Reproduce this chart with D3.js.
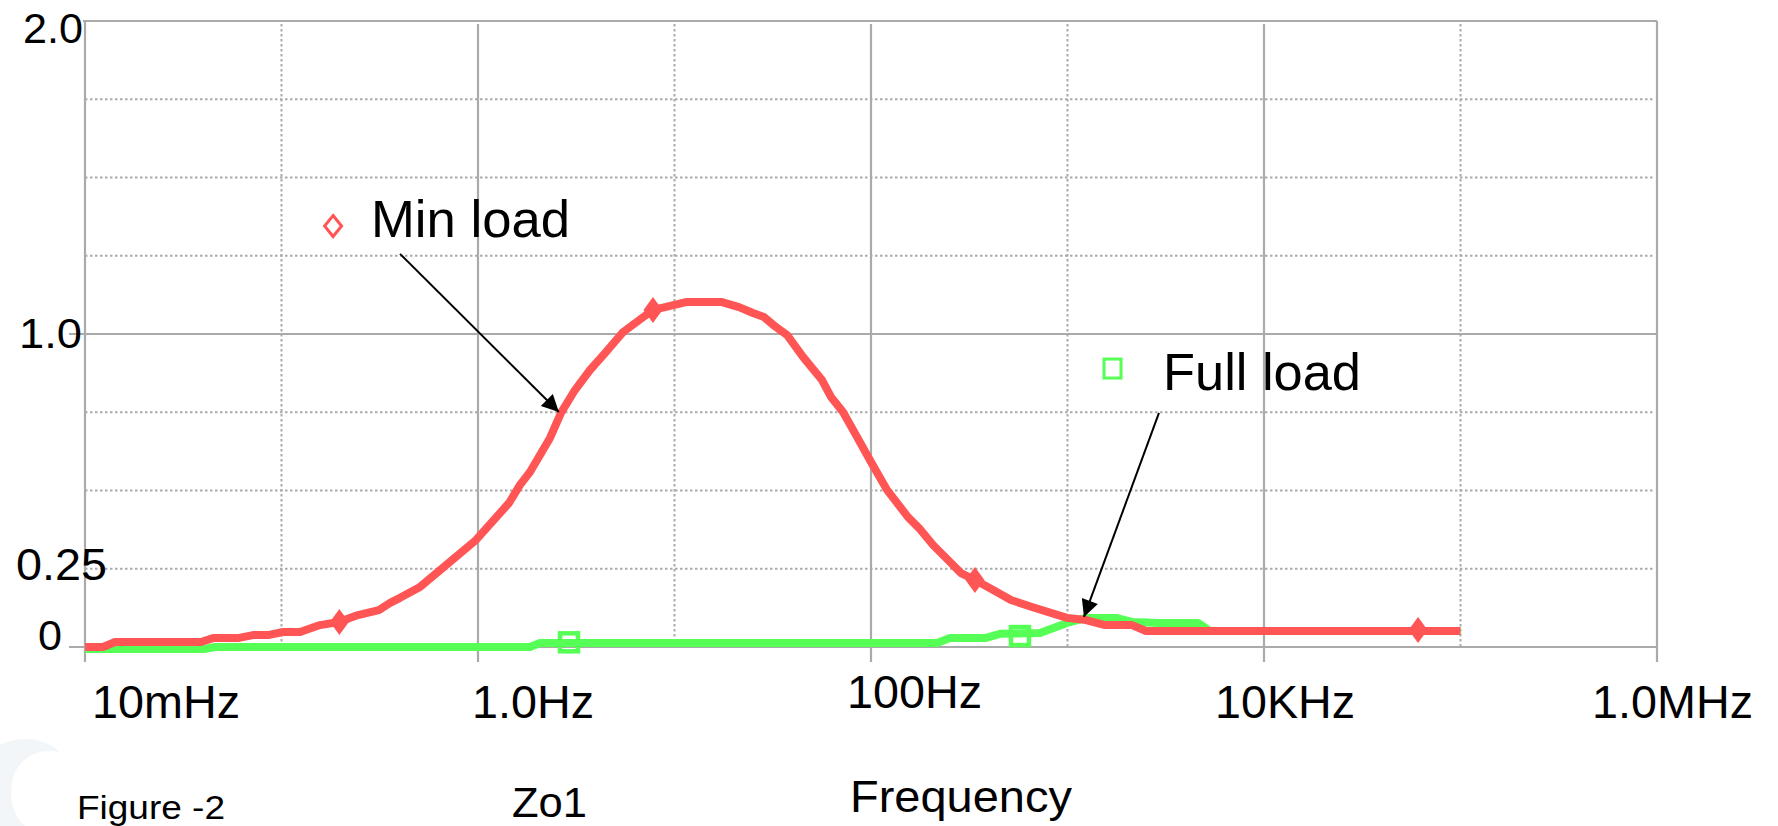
<!DOCTYPE html>
<html>
<head>
<meta charset="utf-8">
<script src="https://cdn.jsdelivr.net/npm/d3@7"></script>
<style>
  body { margin: 0; background: #fff; }
  svg { display: block; font-family: "Liberation Sans", Arial, sans-serif; }
</style>
</head>
<body>
<div class="svg-container"></div>
<script>
// Min load curve (Zo1 vs frequency)
var minFreq = [0.01, 0.01235, 0.01422, 0.0389, 0.0453, 0.0608, 0.0716, 0.0854, 0.1018, 0.1242,
  0.157, 0.196, 0.245, 0.313, 0.357, 0.401, 0.507, 0.671, 0.977, 1.438,
  1.636, 1.839, 2.325, 2.645, 3.115, 3.715, 4.43, 5.47, 7.77, 8.95,
  11.44, 17.45, 21.29, 25.08, 28.54, 32.85, 37.37, 45.07, 56.31, 62.57,
  72.03, 83.88, 100, 120.6, 154.3, 175.5, 206.9, 246.6, 287.1, 338.3,
  403.3, 515.8, 659.6, 994, 1242, 1552, 2129, 2508, 100000];
var minVal = [0, 0, 0.016, 0.016, 0.029, 0.029, 0.038, 0.038, 0.048, 0.048,
  0.070, 0.080, 0.102, 0.118, 0.141, 0.157, 0.192, 0.256, 0.342, 0.460,
  0.518, 0.559, 0.668, 0.748, 0.821, 0.885, 0.939, 1.006, 1.077, 1.086,
  1.102, 1.102, 1.086, 1.067, 1.054, 1.022, 0.997, 0.927, 0.853, 0.799,
  0.751, 0.677, 0.591, 0.502, 0.415, 0.380, 0.326, 0.278, 0.236, 0.214,
  0.188, 0.150, 0.128, 0.093, 0.086, 0.070, 0.070, 0.051, 0.051];
var minMarkFreq = [0.197, 7.77, 338, 60800];
var minMarkVal = [0.080, 1.077, 0.214, 0.054];

// Full load curve
var fullFreq = [0.01, 0.0408, 0.0459, 1.839, 2.068, 216.7, 252.4, 384.8, 453.4, 724.6,
  994, 1242, 1765, 2129, 2921, 4616, 5313, 100000];
var fullVal = [-0.006, -0.006, 0, 0, 0.013, 0.013, 0.029, 0.029, 0.042, 0.045,
  0.077, 0.093, 0.093, 0.080, 0.077, 0.077, 0.051, 0.051];
var fullMarkFreq = [2.905, 573];
var fullMarkVal = [0.015, 0.035];

// axes
var decades = [0.01, 0.1, 1, 10, 100, 1000, 10000, 100000, 1000000];
var yMinor = [0.25, 0.5, 0.75, 1.25, 1.5, 1.75];
var yMajor = [0, 1, 2];
var yLabelVal = [2, 1, 0.25, 0];
var yLabelText = ["2.0", "1.0", "0.25", "0"];
var xLabelFreq = [0.01, 1, 100, 10000, 1000000];
var xLabelText = ["10mHz", "1.0Hz", "100Hz", "10KHz", "1.0MHz"];

// layout nudges for the pasted-in labels
var yLabelRight = [-2, -3, 22, -23];
var yLabelDy = [22, 14, 11, 3];
var yLabelSize = [42, 42, 44, 42];
var yLabelLen = [60, 63, 91, 24];
var xLabelDx = [7, -6, -24, -49, -65];
var xLabelDy = [71, 71, 61, 71, 71];
var xLabelLen = [148, 122, 135, 140, 161];

var W = 1778, H = 826;
var gridCol = "#aaaaaa", redCol = "#ff5555", greenCol = "#55ff55";

var svg = d3.select(".svg-container").append("svg").attr("width", W).attr("height", H);

var x = d3.scaleLog().domain([0.01, 1000000]).range([85, 1657]);
var y = d3.scaleLinear().domain([0, 2]).range([647, 21]);

// faint swoosh bottom-left (watermark in the original scan)
svg.append("path")
  .attr("d", "M0,745 C20,735 45,738 60,752 C40,748 22,755 14,775 C8,795 12,815 25,826 L0,826 Z")
  .attr("fill", "#eef2f5").attr("opacity", 0.7);

// grid
svg.append("g").selectAll("line")
  .data(yMinor).enter().append("line")
  .attr("x1", x(0.01)).attr("x2", x(1000000) - 4)
  .attr("y1", function(d) { return y(d); }).attr("y2", function(d) { return y(d); })
  .attr("stroke", gridCol).attr("stroke-width", 2).attr("stroke-dasharray", "2.5,2.5");

svg.append("g").selectAll("line")
  .data(decades.filter(function(d, i) { return i % 2 == 1; })).enter().append("line")
  .attr("x1", function(d) { return x(d); }).attr("x2", function(d) { return x(d); })
  .attr("y1", y(2) + 3).attr("y2", y(0))
  .attr("stroke", gridCol).attr("stroke-width", 2).attr("stroke-dasharray", "2.5,2.5");

svg.append("g").selectAll("line")
  .data(decades.filter(function(d, i) { return i % 2 == 0; })).enter().append("line")
  .attr("x1", function(d) { return x(d); }).attr("x2", function(d) { return x(d); })
  .attr("y1", function(d, i) { return (i == 0 || d == 1000000) ? y(2) : y(2) + 3; })
  .attr("y2", y(0) + 15)
  .attr("stroke", gridCol).attr("stroke-width", 2.2);

svg.append("g").selectAll("line")
  .data(yMajor).enter().append("line")
  .attr("x1", function(d) { return d == 2 ? x(0.01) - 2 : x(0.01) - 16; })
  .attr("x2", x(1000000))
  .attr("y1", function(d) { return y(d); }).attr("y2", function(d) { return y(d); })
  .attr("stroke", gridCol).attr("stroke-width", 2.2);

// curves
var line = d3.line()
  .x(function(d) { return x(d[0]); })
  .y(function(d) { return y(d[1]); });

var fullData = fullFreq.map(function(f, i) { return [f, fullVal[i]]; });
var minData = minFreq.map(function(f, i) { return [f, minVal[i]]; });

svg.append("path").datum(fullData)
  .attr("d", line).attr("fill", "none")
  .attr("stroke", greenCol).attr("stroke-width", 8).attr("stroke-linejoin", "round");

svg.append("g").selectAll("rect")
  .data(fullMarkFreq).enter().append("rect")
  .attr("x", function(d) { return x(d) - 9; })
  .attr("y", function(d, i) { return y(fullMarkVal[i]) - 9; })
  .attr("width", 18).attr("height", 18)
  .attr("fill", "none").attr("stroke", greenCol).attr("stroke-width", 4.5);

svg.append("path").datum(minData)
  .attr("d", line).attr("fill", "none")
  .attr("stroke", redCol).attr("stroke-width", 8).attr("stroke-linejoin", "round");

var diamond = function(cx, cy, w, h) {
  return "M" + cx + "," + (cy - h / 2) + "L" + (cx + w / 2) + "," + cy +
    "L" + cx + "," + (cy + h / 2) + "L" + (cx - w / 2) + "," + cy + "Z";
};

svg.append("g").selectAll("path")
  .data(minMarkFreq).enter().append("path")
  .attr("d", function(d, i) { return diamond(x(d), y(minMarkVal[i]), 19, 26); })
  .attr("fill", redCol);

// labels
svg.append("g").selectAll("text")
  .data(yLabelVal).enter().append("text")
  .attr("x", function(d, i) { return x(0.01) + yLabelRight[i]; })
  .attr("y", function(d, i) { return y(d) + yLabelDy[i]; })
  .attr("text-anchor", "end")
  .attr("font-size", function(d, i) { return yLabelSize[i]; })
  .attr("textLength", function(d, i) { return yLabelLen[i]; })
  .attr("lengthAdjust", "spacingAndGlyphs")
  .text(function(d, i) { return yLabelText[i]; });

svg.append("g").selectAll("text")
  .data(xLabelFreq).enter().append("text")
  .attr("x", function(d, i) { return x(d) + xLabelDx[i]; })
  .attr("y", function(d, i) { return y(0) + xLabelDy[i]; })
  .attr("font-size", 46)
  .attr("textLength", function(d, i) { return xLabelLen[i]; })
  .attr("lengthAdjust", "spacingAndGlyphs")
  .text(function(d, i) { return xLabelText[i]; });

// annotations
var defs = svg.append("defs");
defs.append("marker").attr("id", "head")
  .attr("viewBox", "0 0 10 10").attr("refX", 10).attr("refY", 5)
  .attr("markerWidth", 24).attr("markerHeight", 17).attr("markerUnits", "userSpaceOnUse")
  .attr("orient", "auto")
  .append("path").attr("d", "M0,0L10,5L0,10Z").attr("fill", "#000");

svg.append("path")
  .attr("d", diamond(x(0.183), y(1.345), 17, 21))
  .attr("fill", "none").attr("stroke", redCol).attr("stroke-width", 3);
svg.append("text").attr("x", x(0.2854)).attr("y", y(1.310))
  .attr("font-size", 52).attr("textLength", 199).attr("lengthAdjust", "spacingAndGlyphs")
  .text("Min load");
svg.append("line")
  .attr("x1", x(0.401)).attr("y1", y(1.256)).attr("x2", x(2.58)).attr("y2", y(0.751))
  .attr("stroke", "#000").attr("stroke-width", 2).attr("marker-end", "url(#head)");

svg.append("rect")
  .attr("x", x(1705) - 9).attr("y", y(0.888) - 10).attr("width", 17).attr("height", 19)
  .attr("fill", "none").attr("stroke", greenCol).attr("stroke-width", 3);
svg.append("text").attr("x", x(3062)).attr("y", y(0.821))
  .attr("font-size", 52).attr("textLength", 198).attr("lengthAdjust", "spacingAndGlyphs")
  .text("Full load");
svg.append("line")
  .attr("x1", x(2921)).attr("y1", y(0.748)).attr("x2", x(1213)).attr("y2", y(0.096))
  .attr("stroke", "#000").attr("stroke-width", 2).attr("marker-end", "url(#head)");

// bottom captions
svg.append("text").attr("x", 77).attr("y", 819)
  .attr("font-size", 33).attr("textLength", 148).attr("lengthAdjust", "spacingAndGlyphs")
  .text("Figure -2");
svg.append("text").attr("x", 512).attr("y", 817)
  .attr("font-size", 42).attr("textLength", 75).attr("lengthAdjust", "spacingAndGlyphs")
  .text("Zo1");
svg.append("text").attr("x", 850).attr("y", 812)
  .attr("font-size", 44).attr("textLength", 222).attr("lengthAdjust", "spacingAndGlyphs")
  .text("Frequency");
</script>
</body>
</html>
